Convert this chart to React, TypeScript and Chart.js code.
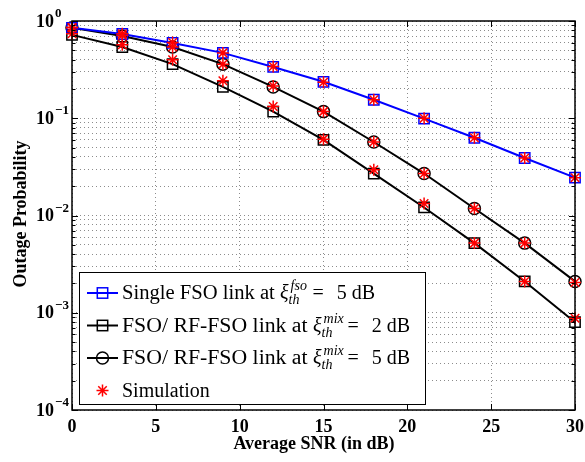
import React, { useEffect, useRef } from 'react';
import { Chart, registerables } from 'chart.js';

Chart.register(...registerables);

// ---------- data ----------
const snrDb = [0, 3, 6, 9, 12, 15, 18, 21, 24, 27, 30];
const singleFso5dB = [0.85, 0.735, 0.595, 0.47, 0.337, 0.237, 0.155, 0.099, 0.063, 0.039, 0.0245];
const mixed2dB = [0.72, 0.54, 0.36, 0.21, 0.117, 0.06, 0.027, 0.0121, 0.0052, 0.0021, 0.0008];
const mixed5dB = [0.85, 0.7, 0.54, 0.36, 0.21, 0.117, 0.057, 0.027, 0.0118, 0.0052, 0.0021];
const simSingleFso5dB = [0.85, 0.74, 0.6, 0.47, 0.34, 0.235, 0.155, 0.1, 0.063, 0.039, 0.0245];
const simMixed2dB = [0.74, 0.57, 0.4, 0.243, 0.132, 0.061, 0.0296, 0.0133, 0.0052, 0.0021, 0.00088];
const simMixed5dB = [0.86, 0.71, 0.54, 0.36, 0.215, 0.117, 0.057, 0.027, 0.0118, 0.0052, 0.00205];

const xTickValues = [0, 5, 10, 15, 20, 25, 30];
const yDecadeExponents = [0, -1, -2, -3, -4];
const yMinorMultipliers = [2, 3, 4, 5, 6, 7, 8, 9];

const xAxisTitle = 'Average SNR (in dB)';
const yAxisTitle = 'Outage Probability';
const legendPrefixes = ['Single FSO link at ', 'FSO/ RF-FSO link at ', 'FSO/ RF-FSO link at '];
const legendSymbol = 'ξ';
const legendSub = 'th';
const legendSups = ['fso', 'mix', 'mix'];
const legendValues = ['5', '2', '5'];
const legendUnit = 'dB';
const simulationLabel = 'Simulation';

// ---------- styles ----------
const SERIF = '"Liberation Serif", "Times New Roman", serif';
const BLUE = '#0000ff';
const BLACK = '#000000';
const RED = '#ff0000';
const GRID = 'rgba(0,0,0,0.45)';

const yTickValues: number[] = [];
yDecadeExponents.forEach((e) => {
  yTickValues.push(Math.pow(10, e));
  if (e < 0) yMinorMultipliers.forEach((m) => yTickValues.push(m * Math.pow(10, e)));
});
yTickValues.sort((a, b) => a - b);

function toXY(ys: number[]) {
  return snrDb.map((x, i) => ({ x, y: ys[i] }));
}

function drawMarker(ctx: CanvasRenderingContext2D, kind: string, x: number, y: number, color: string) {
  ctx.save();
  ctx.strokeStyle = color;
  ctx.setLineDash([]);
  ctx.lineWidth = 1.5;
  if (kind === 'rect') {
    const s = 5.2;
    ctx.strokeRect(x - s, y - s, 2 * s, 2 * s);
  } else if (kind === 'circle') {
    ctx.beginPath();
    ctx.arc(x, y, 6, 0, Math.PI * 2);
    ctx.stroke();
  } else if (kind === 'star') {
    const r = 6;
    const d = r * Math.SQRT1_2;
    ctx.beginPath();
    ctx.moveTo(x, y - r); ctx.lineTo(x, y + r);
    ctx.moveTo(x - r, y); ctx.lineTo(x + r, y);
    ctx.moveTo(x - d, y - d); ctx.lineTo(x + d, y + d);
    ctx.moveTo(x - d, y + d); ctx.lineTo(x + d, y - d);
    ctx.stroke();
  }
  ctx.restore();
}

const overlayPlugin = {
  id: 'matlabOverlay',
  afterDraw(chart: any) {
    const { ctx, chartArea: a } = chart;
    const xs = chart.scales.x;
    const ys = chart.scales.y;
    ctx.save();
    ctx.setLineDash([]);
    ctx.strokeStyle = BLACK;
    ctx.fillStyle = BLACK;

    // frame
    ctx.lineWidth = 1.5;
    ctx.strokeRect(a.left, a.top, a.right - a.left, a.bottom - a.top);

    // inward ticks
    ctx.lineWidth = 1;
    ctx.beginPath();
    xTickValues.forEach((v) => {
      const px = Math.round(xs.getPixelForValue(v)) + 0.5;
      ctx.moveTo(px, a.bottom); ctx.lineTo(px, a.bottom - 6);
      ctx.moveTo(px, a.top); ctx.lineTo(px, a.top + 6);
    });
    yTickValues.forEach((v) => {
      const py = Math.round(ys.getPixelForValue(v)) + 0.5;
      const major = Math.abs(Math.log10(v) - Math.round(Math.log10(v))) < 1e-9;
      const len = major ? 6 : 3.5;
      ctx.moveTo(a.left, py); ctx.lineTo(a.left + len, py);
      ctx.moveTo(a.right, py); ctx.lineTo(a.right - len, py);
    });
    ctx.stroke();

    // x tick labels
    ctx.font = `bold 18px ${SERIF}`;
    ctx.textAlign = 'center';
    ctx.textBaseline = 'middle';
    xTickValues.forEach((v) => {
      ctx.fillText(String(v), xs.getPixelForValue(v), 427);
    });

    // y tick labels 10^e
    yDecadeExponents.forEach((e) => {
      const py = ys.getPixelForValue(Math.pow(10, e));
      ctx.font = `bold 18px ${SERIF}`;
      ctx.textAlign = 'left';
      ctx.textBaseline = 'middle';
      ctx.fillText('10', 36, py + 1);
      const w = ctx.measureText('10').width;
      ctx.font = `bold 13px ${SERIF}`;
      ctx.textBaseline = 'alphabetic';
      ctx.fillText(e === 0 ? '0' : '\u2212' + String(-e), 36 + w + 1, py - 4);
    });

    // axis titles
    ctx.font = `bold 18px ${SERIF}`;
    ctx.textAlign = 'center';
    ctx.textBaseline = 'middle';
    ctx.fillText(xAxisTitle, 314, 444);
    ctx.save();
    ctx.translate(21, 214);
    ctx.rotate(-Math.PI / 2);
    ctx.fillText(yAxisTitle, 0, 0);
    ctx.restore();

    // legend box
    const lx = 79, ly = 272, lw = 346, lh = 132;
    ctx.fillStyle = '#ffffff';
    ctx.fillRect(lx, ly, lw, lh);
    ctx.strokeStyle = BLACK;
    ctx.lineWidth = 1;
    ctx.strokeRect(lx + 0.5, ly + 0.5, lw, lh);

    const baselines = [299, 331.5, 364, 396.5];
    const textX = 122;
    const xiTargets = [280, 313, 313];
    const sampleColors = [BLUE, BLACK, BLACK];
    const sampleMarkers = ['rect', 'rect', 'circle'];
    for (let i = 0; i < 3; i++) {
      const b = baselines[i];
      const sy = b - 6;
      ctx.strokeStyle = sampleColors[i];
      ctx.lineWidth = 2;
      ctx.beginPath();
      ctx.moveTo(87, sy); ctx.lineTo(118, sy);
      ctx.stroke();
      drawMarker(ctx, sampleMarkers[i], 102.5, sy, sampleColors[i]);

      ctx.fillStyle = BLACK;
      ctx.textAlign = 'left';
      ctx.textBaseline = 'alphabetic';
      ctx.font = `20px ${SERIF}`;
      const pre = legendPrefixes[i];
      const natural = ctx.measureText(pre).width;
      const target = xiTargets[i] - textX;
      ctx.save();
      ctx.translate(textX, b);
      ctx.scale(target / natural, 1);
      ctx.fillText(pre, 0, 0);
      ctx.restore();

      let x = xiTargets[i];
      ctx.font = `italic 20px ${SERIF}`;
      ctx.fillText(legendSymbol, x, b);
      x += ctx.measureText(legendSymbol).width + 1;
      ctx.font = `italic 14px ${SERIF}`;
      ctx.fillText(legendSub, x - 1, b + 5);
      const wSub = ctx.measureText(legendSub).width;
      ctx.fillText(legendSups[i], x + 1, b - 9);
      const wSup = ctx.measureText(legendSups[i]).width;
      x += Math.max(wSub, wSup + 1, i === 0 ? 22 : 24) + 1;
      ctx.font = `20px ${SERIF}`;
      ctx.fillText('=', x, b);
      x += ctx.measureText('=').width + 13;
      ctx.fillText(legendValues[i], x, b);
      x += ctx.measureText(legendValues[i]).width + 5;
      ctx.fillText(legendUnit, x, b);
    }
    drawMarker(ctx, 'star', 102.5, baselines[3] - 6, RED);
    ctx.fillStyle = BLACK;
    ctx.font = `20px ${SERIF}`;
    ctx.textAlign = 'left';
    ctx.fillText(simulationLabel, textX, baselines[3]);

    ctx.restore();
  },
};

function simDataset(label: string, values: number[]) {
  return {
    label,
    data: toXY(values),
    showLine: false,
    pointStyle: 'star',
    pointRadius: 6,
    pointBorderWidth: 1.5,
    borderColor: RED,
    backgroundColor: RED,
    order: 0,
    clip: false,
  };
}

function curveDataset(label: string, values: number[], color: string, style: string, radius: number) {
  return {
    label,
    data: toXY(values),
    borderColor: color,
    backgroundColor: 'rgba(0,0,0,0)',
    borderWidth: 2,
    pointStyle: style,
    pointRadius: radius,
    pointBorderWidth: 1.5,
    pointBorderColor: color,
    pointBackgroundColor: 'rgba(0,0,0,0)',
    tension: 0,
    order: 1,
    clip: false,
  };
}

export default function App() {
  const canvasRef = useRef<HTMLCanvasElement>(null);

  useEffect(() => {
    document.body.style.margin = '0';
    const canvas = canvasRef.current;
    if (!canvas) return;

    const chart = new Chart(canvas, {
      type: 'line',
      data: {
        datasets: [
          simDataset('Simulation (single FSO)', simSingleFso5dB),
          simDataset('Simulation (mix 2 dB)', simMixed2dB),
          simDataset('Simulation (mix 5 dB)', simMixed5dB),
          curveDataset('Single FSO link at xi_th^fso = 5 dB', singleFso5dB, BLUE, 'rect', 7.3),
          curveDataset('FSO/ RF-FSO link at xi_th^mix = 2 dB', mixed2dB, BLACK, 'rect', 7.3),
          curveDataset('FSO/ RF-FSO link at xi_th^mix = 5 dB', mixed5dB, BLACK, 'circle', 6),
        ],
      },
      options: {
        responsive: false,
        animation: false,
        events: [],
        layout: { padding: { left: 72, top: 21, right: 10, bottom: 52 } },
        plugins: {
          legend: { display: false },
          tooltip: { enabled: false },
          title: { display: false },
        },
        scales: {
          x: {
            type: 'linear',
            min: 0,
            max: 30,
            ticks: { display: false, stepSize: 5 },
            afterBuildTicks: (scale: any) => {
              scale.ticks = xTickValues.map((v) => ({ value: v }));
            },
            grid: { color: GRID, lineWidth: 1, drawTicks: false },
            border: { display: false, dash: [1, 3] },
            title: { display: false },
          },
          y: {
            type: 'logarithmic',
            min: 1e-4,
            max: 1,
            ticks: { display: false, autoSkip: false },
            afterBuildTicks: (scale: any) => {
              scale.ticks = yTickValues.map((v) => ({ value: v }));
            },
            grid: { color: GRID, lineWidth: 1, drawTicks: false },
            border: { display: false, dash: [1, 3] },
            title: { display: false },
          },
        },
      },
      plugins: [overlayPlugin],
    } as any);

    return () => chart.destroy();
  }, []);

  return (
    <div style={{ width: 585, height: 462, background: '#ffffff' }}>
      <canvas ref={canvasRef} width={585} height={462} />
    </div>
  );
}
